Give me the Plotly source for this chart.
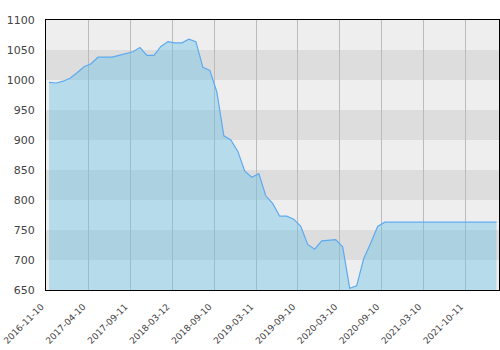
import plotly.graph_objects as go

values = [996, 995, 998, 1003, 1012, 1022, 1027, 1038, 1038, 1038,
          1041, 1044, 1047, 1054, 1041, 1041, 1056, 1064, 1062, 1062,
          1068, 1064, 1021, 1016, 980, 907, 900, 881, 848, 838,
          844, 807, 794, 773, 773, 768, 756, 726, 718, 732,
          733, 734, 722, 653, 657, 702, 728, 756, 763, 763,
          763, 763, 763, 763, 763, 763, 763, 763, 763, 763,
          763, 763, 763, 763, 763]
tick_labels = ["2016-11-10", "2017-04-10", "2017-09-11", "2018-03-12",
               "2018-09-10", "2019-03-11", "2019-09-10", "2020-03-10",
               "2020-09-10", "2021-03-10", "2021-10-11"]
y_ticks = [650, 700, 750, 800, 850, 900, 950, 1000, 1050, 1100]
dark_bands = [(700, 750), (800, 850), (900, 950), (1000, 1050)]

idx = list(range(len(values)))
step = 6
tick_pos = [k * step - 0.4 for k in range(len(tick_labels))]

fig = go.Figure()
fig.add_trace(go.Scatter(
    x=idx, y=values, mode="lines",
    line=dict(color="#5eaaf0", width=1.2),
    fill="tozeroy", fillcolor="rgba(106,194,232,0.42)",
    hoverinfo="skip", showlegend=False))

shapes = []
for lo, hi in dark_bands:
    shapes.append(dict(type="rect", xref="paper", yref="y", x0=0, x1=1,
                       y0=lo, y1=hi, fillcolor="#dddddd", line=dict(width=0),
                       layer="below"))

yfont = dict(family="DejaVu Sans", size=11, color="#444444")
xfont = dict(family="DejaVu Sans", size=9, color="#444444")
fig.update_layout(
    width=500, height=350,
    margin=dict(l=46, r=1, t=20, b=60),
    paper_bgcolor="white", plot_bgcolor="#eeeeee",
    shapes=shapes,
    font=yfont,
    xaxis=dict(range=[-0.44, 64.36], tickmode="array", tickvals=tick_pos,
               ticktext=tick_labels, tickangle=-45, showgrid=True,
               gridcolor="#bbbbbb", gridwidth=1, zeroline=False,
               showline=True, linecolor="black", linewidth=1, mirror=True,
               ticks="", tickfont=xfont, ticklabelstandoff=7,
               ticklabelshift=-5, automargin=False,
               ticklabeloverflow="allow"),
    yaxis=dict(range=[650, 1100], tickvals=y_ticks, showgrid=False,
               zeroline=False, showline=True, linecolor="black", linewidth=1,
               mirror=True, ticks="", ticklabelstandoff=8, tickfont=yfont,
               automargin=False),
)
fig.write_html("out.html")
